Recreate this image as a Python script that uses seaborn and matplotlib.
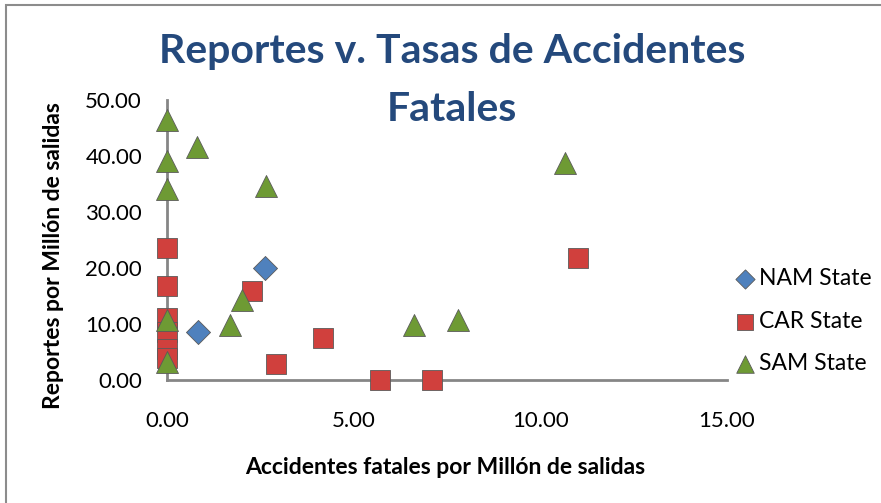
import pandas as pd
import numpy as np
import matplotlib.pyplot as plt
import seaborn as sns
from matplotlib.patches import Rectangle

# Data
nam_x = [2.63, 0.83]
nam_y = [20.0, 8.6]

car_x = [0.0, 0.0, 0.0, 0.0, 0.0, 0.0, 2.28, 2.92, 4.18, 5.71, 7.10, 11.0]
car_y = [23.6, 16.8, 11.0, 8.5, 5.5, 4.0, 15.9, 2.9, 7.5, 0.0, 0.0, 21.8]

sam_x = [0.0, 0.0, 0.0, 0.80, 2.65, 0.0, 0.0, 2.0, 1.69, 6.62, 7.80, 10.67]
sam_y = [46.4, 39.1, 34.1, 41.6, 34.6, 10.7, 3.2, 14.3, 9.8, 9.8, 10.7, 38.7]

series = ['NAM State', 'CAR State', 'SAM State']
colors = {'NAM State': '#4F81BD', 'CAR State': '#D0403D', 'SAM State': '#6E9A34'}
markers = {'NAM State': 'D', 'CAR State': 's', 'SAM State': '^'}

df = pd.concat([
    pd.DataFrame({'x': nam_x, 'y': nam_y, 'Serie': 'NAM State'}),
    pd.DataFrame({'x': car_x, 'y': car_y, 'Serie': 'CAR State'}),
    pd.DataFrame({'x': sam_x, 'y': sam_y, 'Serie': 'SAM State'}),
], ignore_index=True)

sns.set_theme(style='white')
plt.rcParams['font.family'] = ['Lato', 'DejaVu Sans']
plt.rcParams['text.color'] = 'black'
plt.rcParams['axes.labelcolor'] = 'black'

fig = plt.figure(figsize=(8.81, 5.03), dpi=100)
ax = fig.add_axes([0.1896, 0.2445, 0.6356, 0.5567])

sizes = {'NAM State': 150, 'CAR State': 220, 'SAM State': 250}
for s in series:
    sub = df[df['Serie'] == s]
    sns.scatterplot(data=sub, x='x', y='y', ax=ax, color=colors[s],
                    marker=markers[s], s=sizes[s], edgecolor='#5a5a5a',
                    linewidth=0.6, label=s, clip_on=False, zorder=3)

ax.set_xlim(0, 15)
ax.set_ylim(0, 50)
ax.set_xticks([0, 5, 10, 15])
ax.set_yticks([0, 10, 20, 30, 40, 50])
ax.set_xticklabels(['0.00', '5.00', '10.00', '15.00'])
ax.set_yticklabels(['0.00', '10.00', '20.00', '30.00', '40.00', '50.00'])
ax.tick_params(axis='both', length=0, labelsize=16, colors='black')
ax.tick_params(axis='x', pad=22)
ax.tick_params(axis='y', pad=18)

for side in ['top', 'right']:
    ax.spines[side].set_visible(False)
for side in ['left', 'bottom']:
    ax.spines[side].set_color('#868686')
    ax.spines[side].set_linewidth(2)

ax.set_xlabel('Accidentes fatales por Millón de salidas', fontsize=16.5,
              fontweight='bold')
ax.set_ylabel('Reportes por Millón de salidas', fontsize=16.5,
              fontweight='bold')
ax.xaxis.set_label_coords(0.496, -0.275)
ax.yaxis.set_label_coords(-0.184, 0.443)

fig.text(0.513, 0.897, 'Reportes v. Tasas de Accidentes', ha='center',
         va='center', fontsize=29.5, fontweight='bold', color='#24497C')
fig.text(0.513, 0.783, 'Fatales', ha='center', va='center', fontsize=29.5,
         fontweight='bold', color='#24497C')

leg = ax.legend(loc='center left', bbox_to_anchor=(0.975, 0.21), frameon=False,
                fontsize=16.5, labelspacing=0.95, handletextpad=0.1,
                markerscale=0.8, handlelength=1.0)

fig.patches.append(Rectangle((0.007, -0.01), 0.995, 1.0, transform=fig.transFigure,
                             fill=False, edgecolor='#8c8c8c', linewidth=1.5))

plt.savefig('out.png', dpi=100)
